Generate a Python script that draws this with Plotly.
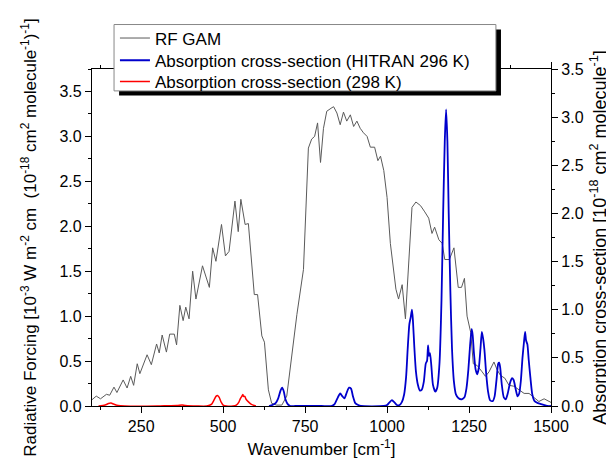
import plotly.graph_objects as go

# RF GAM (left axis)
rf_wn = [100, 113, 126, 144, 154, 167, 176, 195, 207, 218, 227, 238, 246, 268, 281, 297, 305, 314, 327, 337,
         351, 358, 368, 378, 386, 396, 407, 417, 437, 458, 468, 478, 495, 507, 518, 536, 546, 554, 567, 577,
         595, 605, 618, 626, 638, 648, 663, 679, 694, 709, 725, 745, 760, 770, 779, 788, 797, 806, 816, 832,
         837, 847, 857, 867, 877, 888, 898, 908, 918, 928, 939, 949, 962, 972, 980, 990, 1000, 1010, 1020, 1027,
         1035, 1046, 1056, 1064, 1076, 1088, 1102, 1115, 1127, 1137, 1145, 1158, 1168, 1176, 1190, 1204, 1217, 1227, 1236, 1244,
         1255, 1263, 1275, 1290, 1300, 1311, 1326, 1336, 1346, 1359, 1372, 1387, 1402, 1418, 1433, 1448, 1463, 1479, 1494, 1500]
rf_val = [0.07, 0.11, 0.08, 0.13, 0.12, 0.21, 0.15, 0.29, 0.20, 0.33, 0.23, 0.47, 0.36, 0.57, 0.46, 0.69, 0.59, 0.79, 0.60, 0.80,
          0.80, 0.68, 1.12, 0.95, 1.10, 0.97, 1.50, 1.19, 1.56, 1.32, 1.76, 1.61, 2.02, 1.67, 1.72, 2.28, 1.94, 2.30, 2.02, 2.03,
          1.24, 1.24, 0.78, 0.71, 0.18, 0.03, 0.01, 0.01, 0.11, 0.56, 1.02, 1.52, 2.87, 2.97, 3.00, 3.15, 2.71, 3.09, 3.28, 3.32,
          3.33, 3.26, 3.13, 3.27, 3.17, 3.24, 3.11, 3.17, 3.09, 3.04, 3.00, 2.88, 2.88, 2.73, 2.78, 2.62, 2.32, 1.81, 1.48, 1.30,
          1.19, 1.35, 0.97, 1.52, 2.21, 2.27, 2.23, 2.16, 2.09, 1.92, 1.99, 1.85, 1.81, 1.63, 1.63, 1.76, 1.32, 1.32, 1.42, 1.00,
          0.82, 0.47, 0.45, 0.38, 0.33, 0.38, 0.49, 0.40, 0.34, 0.31, 0.23, 0.22, 0.18, 0.14, 0.14, 0.09, 0.05, 0.08, 0.05, 0.04]

# HITRAN 296 K cross-section (right axis)
hit_wn = [640, 650, 660, 668, 675, 680, 685, 690, 697, 705, 720, 800, 830, 840, 850, 857, 864, 870, 877, 884,
          890, 896, 903, 912, 920, 990, 1000, 1008, 1015, 1022, 1030, 1038, 1045, 1052, 1058, 1063, 1068, 1072, 1076, 1079,
          1083, 1088, 1094, 1100, 1106, 1112, 1118, 1122, 1125, 1128, 1131, 1135, 1140, 1147, 1153, 1160, 1166, 1171, 1176, 1180,
          1184, 1188, 1193, 1198, 1204, 1210, 1218, 1228, 1236, 1242, 1248, 1253, 1258, 1261, 1265, 1270, 1275, 1280, 1285, 1289,
          1293, 1297, 1302, 1308, 1314, 1322, 1328, 1334, 1339, 1342, 1345, 1350, 1356, 1362, 1368, 1375, 1381, 1386, 1392, 1398,
          1403, 1408, 1413, 1418, 1421, 1424, 1428, 1432, 1437, 1443, 1450, 1460, 1470, 1480, 1490, 1500]
hit_val = [0.0, 0.01, 0.03, 0.08, 0.16, 0.19, 0.15, 0.07, 0.02, 0.0, 0.0, 0.0, 0.0, 0.02, 0.09, 0.13, 0.10, 0.08, 0.14, 0.19,
           0.18, 0.10, 0.03, 0.01, 0.0, 0.0, 0.01, 0.04, 0.06, 0.04, 0.01, 0.01, 0.04, 0.12, 0.30, 0.60, 0.85, 0.92, 1.00, 0.88,
           0.62, 0.36, 0.22, 0.16, 0.17, 0.25, 0.44, 0.47, 0.63, 0.52, 0.55, 0.42, 0.22, 0.15, 0.19, 0.45, 1.10, 2.00, 2.75, 3.08,
           2.75, 2.00, 1.20, 0.60, 0.25, 0.12, 0.08, 0.07, 0.09, 0.18, 0.38, 0.62, 0.80, 0.74, 0.55, 0.38, 0.33, 0.40, 0.60, 0.77,
           0.70, 0.58, 0.35, 0.15, 0.06, 0.05, 0.10, 0.28, 0.44, 0.45, 0.40, 0.22, 0.09, 0.07, 0.13, 0.24, 0.29, 0.27, 0.18, 0.10,
           0.13, 0.26, 0.50, 0.68, 0.77, 0.68, 0.64, 0.48, 0.30, 0.12, 0.05, 0.03, 0.02, 0.01, 0.0, 0.0]

# 298 K cross-section (right axis)
red_wn = [120, 140, 150, 158, 166, 180, 200, 300, 330, 360, 375, 385, 420, 450, 465, 472, 478, 483, 488, 494,
          500, 510, 530, 540, 548, 553, 557, 560, 562, 566, 570, 578, 585, 595, 600]
red_val = [0.0, 0.01, 0.025, 0.03, 0.02, 0.005, 0.0, 0.0, 0.003, 0.005, 0.01, 0.005, 0.0, 0.0, 0.02, 0.06, 0.10, 0.11, 0.09, 0.04,
           0.01, 0.0, 0.0, 0.01, 0.04, 0.08, 0.10, 0.12, 0.10, 0.10, 0.07, 0.04, 0.02, 0.005, 0.0]

x_ticks = [250, 500, 750, 1000, 1250, 1500]

FONT = "Liberation Sans, Arial, sans-serif"

fig = go.Figure()
fig.add_trace(go.Scatter(x=rf_wn, y=rf_val, mode="lines", name="RF GAM", legend="legend", showlegend=True,
                         line=dict(color="#5a5a5a", width=1)))
fig.add_trace(go.Scatter(x=hit_wn, y=hit_val, mode="lines", name="Absorption cross-section (HITRAN 296 K)",
                         legend="legend2", yaxis="y2", showlegend=True,
                         line=dict(color="#0000CC", width=1.8, shape="spline", smoothing=0.6)))
fig.add_trace(go.Scatter(x=red_wn, y=red_val, mode="lines", name="Absorption cross-section (298 K)",
                         legend="legend3", yaxis="y2", showlegend=True,
                         line=dict(color="#FF0000", width=1.5, shape="spline", smoothing=0.6)))

axis_common = dict(showline=True, linecolor="black", linewidth=1.2, showgrid=False, zeroline=False,
                   ticks="outside", ticklen=6, tickwidth=1.2, tickcolor="black",
                   tickfont=dict(size=16, color="black", family=FONT))

legend_common = dict(x=0.05, xanchor="left", yanchor="top", bgcolor="rgba(0,0,0,0)", visible=True,
                     borderwidth=0, font=dict(size=17, family=FONT, color="black"), itemwidth=30)

fig.update_layout(
    width=614, height=461,
    margin=dict(l=84, r=71, t=57, b=63),
    plot_bgcolor="white", paper_bgcolor="white",
    font=dict(family=FONT, size=16, color="black"),
    showlegend=True,
    xaxis=dict(range=[100, 1500], tickvals=x_ticks, mirror="ticks",
               minor=dict(dtick=125, tick0=0, ticklen=3, ticks="outside", tickcolor="black"),
               title=dict(text="Wavenumber [cm<sup>-1</sup>]", font=dict(size=17), standoff=8),
               **axis_common),
    yaxis=dict(range=[0, 3.75], dtick=0.5, tick0=0, tickformat=".1f",
               minor=dict(dtick=0.25, ticklen=3, ticks="outside", tickcolor="black"),
               title=dict(text="Radiative Forcing [10<sup>-3</sup> W m<sup>-2</sup> cm  (10<sup>-18</sup> cm<sup>2</sup> molecule<sup>-1</sup>)<sup>-1</sup>]",
                          font=dict(size=17), standoff=18),
               **axis_common),
    yaxis2=dict(range=[0, 3.5], dtick=0.5, tick0=0, tickformat=".1f", overlaying="y", side="right",
                minor=dict(dtick=0.25, ticklen=3, ticks="outside", tickcolor="black"),
                title=dict(text="Absorption cross-section [10<sup>-18</sup> cm<sup>2</sup> molecule<sup>-1</sup>]",
                           font=dict(size=18), standoff=10),
                **axis_common),
    legend=dict(y=1.144, **legend_common),
    legend2=dict(y=1.078, **legend_common),
    legend3=dict(y=1.015, **legend_common),
    shapes=[
        dict(type="rect", xref="paper", yref="paper", x0=0.059, x1=0.891, y0=0.921, y1=1.117,
             fillcolor="black", line=dict(width=0), layer="above"),
        dict(type="rect", xref="paper", yref="paper", x0=0.048, x1=0.880, y0=0.935, y1=1.132,
             fillcolor="white", line=dict(color="#888888", width=1), layer="above"),
    ],
)

fig.write_html("out.html")
